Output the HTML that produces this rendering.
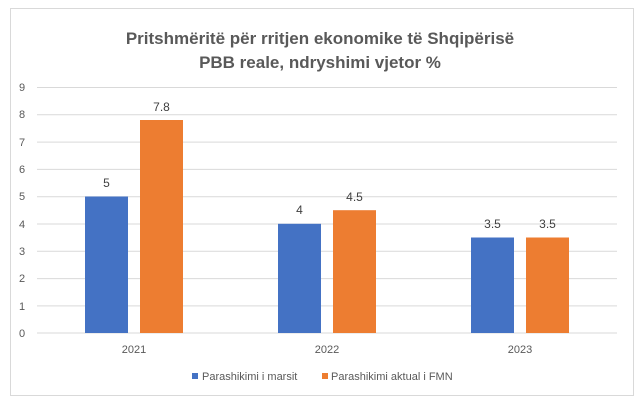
<!DOCTYPE html><html><head><style>body{margin:0;background:#fff}</style></head><body>
<svg width="640" height="408" xmlns="http://www.w3.org/2000/svg" font-family="Liberation Sans, sans-serif">
<rect x="0" y="0" width="640" height="408" fill="#fff"/>
<rect x="10.5" y="8.5" width="623" height="387" fill="#fff" stroke="#d9d9d9"/>
<text x="320" y="44" text-anchor="middle" font-size="17" font-weight="bold" fill="#595959">Pritshmëritë për rritjen ekonomike të Shqipërisë</text>
<text x="320" y="68" text-anchor="middle" font-size="17" font-weight="bold" fill="#595959">PBB reale, ndryshimi vjetor %</text>
<g stroke="#d9d9d9" stroke-width="1">
<line x1="37" x2="617" y1="87.5" y2="87.5"/><line x1="37" x2="617" y1="114.8" y2="114.8"/><line x1="37" x2="617" y1="142.1" y2="142.1"/><line x1="37" x2="617" y1="169.4" y2="169.4"/><line x1="37" x2="617" y1="196.7" y2="196.7"/><line x1="37" x2="617" y1="224" y2="224"/><line x1="37" x2="617" y1="251.3" y2="251.3"/><line x1="37" x2="617" y1="278.6" y2="278.6"/><line x1="37" x2="617" y1="305.9" y2="305.9"/><line x1="37" x2="617" y1="333" y2="333"/>
</g>
<g font-size="11" fill="#595959" text-anchor="middle">
<text x="22" y="91">9</text><text x="22" y="118">8</text><text x="22" y="146">7</text><text x="22" y="173">6</text><text x="22" y="200">5</text><text x="22" y="228">4</text><text x="22" y="255">3</text><text x="22" y="282">2</text><text x="22" y="310">1</text><text x="22" y="337">0</text>
</g>
<g fill="#4472c4">
<rect x="85" y="196.5" width="43" height="136.5"/>
<rect x="278" y="223.8" width="43" height="109.2"/>
<rect x="471" y="237.5" width="43" height="95.5"/>
</g>
<g fill="#ed7d31">
<rect x="140" y="120" width="43" height="213"/>
<rect x="333" y="210.2" width="43" height="122.8"/>
<rect x="526" y="237.5" width="43" height="95.5"/>
</g>
<g font-size="12" fill="#404040" text-anchor="middle">
<text x="106.5" y="187">5</text><text x="161.5" y="111">7.8</text>
<text x="299.5" y="214">4</text><text x="354.5" y="201">4.5</text>
<text x="492.5" y="228">3.5</text><text x="547.5" y="228">3.5</text>
</g>
<g font-size="11" fill="#595959" text-anchor="middle">
<text x="134" y="353">2021</text><text x="327" y="353">2022</text><text x="520" y="353">2023</text>
</g>
<rect x="192" y="373" width="6" height="6" fill="#4472c4"/>
<text x="202" y="380" font-size="11" fill="#595959">Parashikimi i marsit</text>
<rect x="322" y="373" width="6" height="6" fill="#ed7d31"/>
<text x="331" y="380" font-size="11" fill="#595959">Parashikimi aktual i FMN</text>
</svg>
</body></html>
